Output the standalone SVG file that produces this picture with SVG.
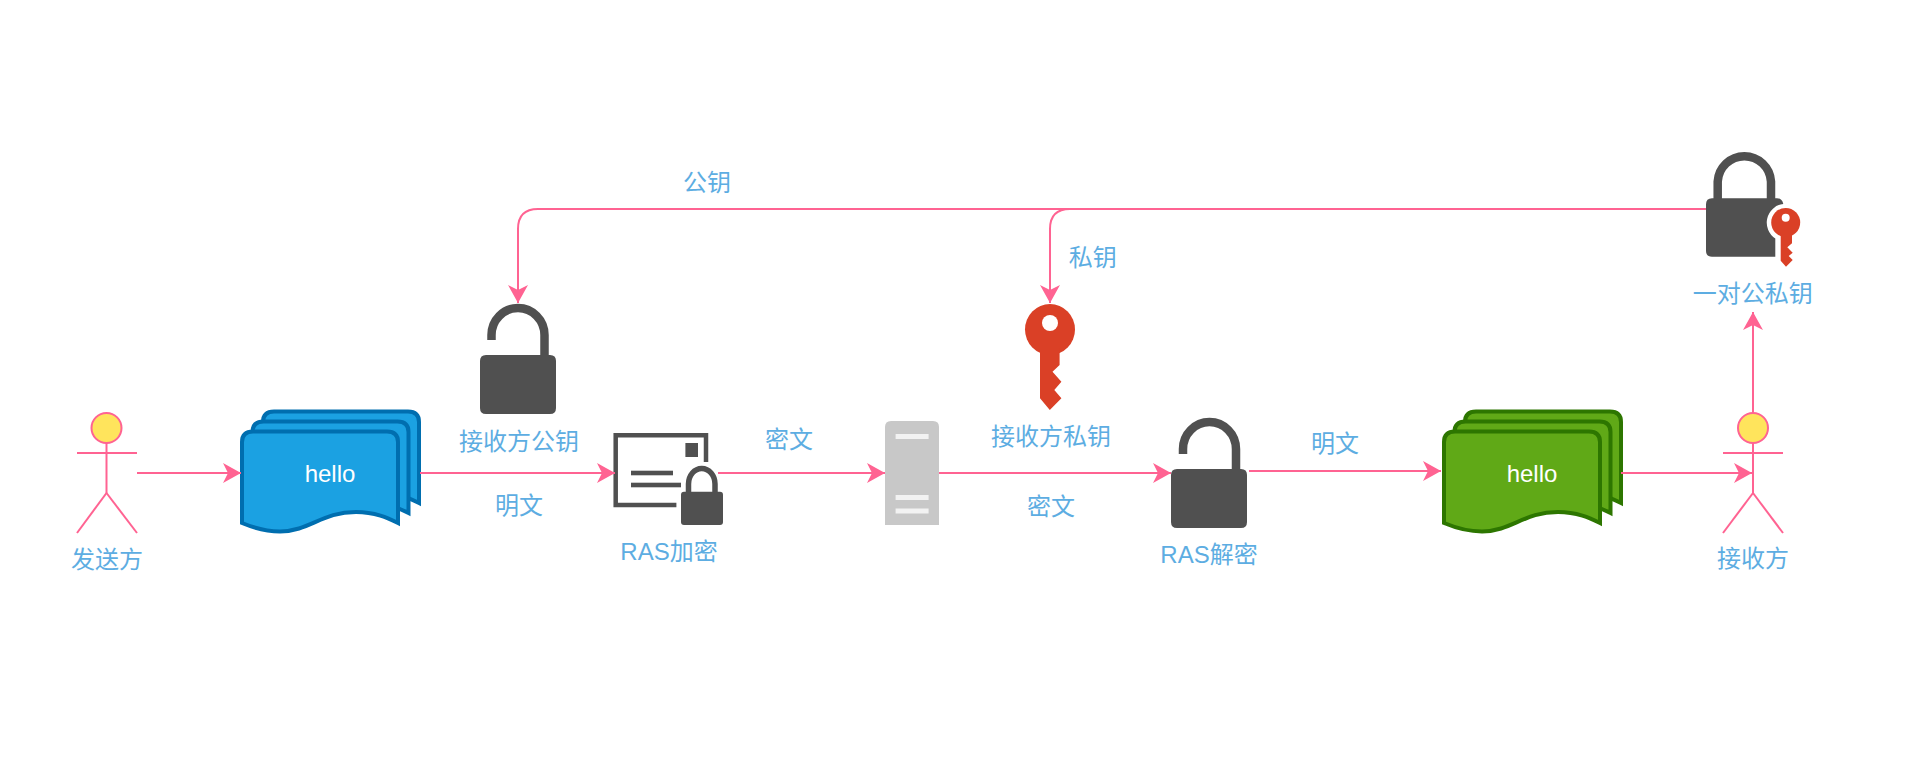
<svg xmlns="http://www.w3.org/2000/svg" width="1920" height="770" viewBox="0 0 1920 770">
<style>
text{font-family:"Liberation Sans","Noto Sans CJK SC",sans-serif;font-size:24px;fill:#5DADE2;text-anchor:middle}
.hello{fill:#fff}
.conn{fill:none;stroke:#FF6392;stroke-width:2;marker-end:url(#arrow)}
.actor line{stroke:#FF6392;stroke-width:2}
.head{fill:#FFE45C;stroke:#FF6392;stroke-width:2}
.blue{fill:#1BA1E2;stroke:#006EAF;stroke-width:4}
.green{fill:#60A917;stroke:#2D7600;stroke-width:4}
.dark{fill:#505050}
.shackle{fill:none;stroke:#505050;stroke-width:8.500}
.red{fill:#DA4026}
</style>
<defs>
<marker id="arrow" markerUnits="userSpaceOnUse" markerWidth="19" markerHeight="22" refX="18" refY="11" orient="auto">
<path d="M0 1L18 11L0 21L5 11Z" fill="#FF6392"/>
</marker>
<path id="doc" d="M242 523V442Q242 431.500 253 431.500H387Q398 431.500 398 442V523C388 518 375 512 356 512C322 512 310 531 280 531.500C266 531.500 254 528 242 523Z"/>
<path id="openlock" d="M0 6Q0 0 6 0H70Q76 0 76 6V53Q76 59 70 59H6Q0 59 0 53Z"/>
<path id="keyshape" d="M1040 348V398.300L1049.800 410L1061.400 398.300L1054.300 390L1061.400 381.700L1052.500 371.700L1059.600 365V348Z"/>
</defs>

<g id="sender" class="actor">
<ellipse class="head" cx="106.500" cy="428" rx="15" ry="15"/>
<line x1="77" y1="453" x2="137" y2="453"/>
<line x1="106.500" y1="443" x2="106.500" y2="493"/>
<line x1="106.500" y1="493" x2="77" y2="533"/>
<line x1="106.500" y1="493" x2="137" y2="533"/>
<text x="107" y="568">发送方</text>
</g>

<g id="doc-plain">
<g class="blue"><use href="#doc" x="21" y="-20"/><use href="#doc" x="10.500" y="-10"/><use href="#doc"/></g>
<text class="hello" x="330" y="482">hello</text>
</g>

<g id="public-key">
<use href="#openlock" class="dark" x="480" y="355"/>
<path class="shackle" d="M491.500 340V335A26.500 27 0 0 1 544.500 335V356"/>
<text x="519" y="450">接收方公钥</text>
</g>

<g id="encrypt">
<path fill="none" stroke="#505050" stroke-width="4.500" d="M676.400 505H615.700V435.200H706V462"/>
<rect class="dark" x="685.400" y="443" width="12.600" height="14"/>
<rect class="dark" x="631" y="470.700" width="42" height="4.600"/>
<rect class="dark" x="631" y="482.700" width="50" height="4.600"/>
<path fill="none" stroke="#fff" stroke-width="11" d="M689 493V484A13 14.500 0 0 1 714.500 484V493"/>
<path fill="none" stroke="#505050" stroke-width="5.500" d="M688.500 493V484A13.200 15.500 0 0 1 715 484V493"/>
<rect class="dark" x="681" y="491.700" width="42" height="33.300" rx="3"/>
<text x="669" y="560">RAS加密</text>
</g>

<g id="server">
<path fill="#C8C8C8" d="M885 427Q885 421 891 421H933Q939 421 939 427V525H885Z"/>
<rect fill="#F2F2F2" x="895.600" y="434" width="33" height="5"/>
<rect fill="#F2F2F2" x="895.600" y="495" width="33" height="5"/>
<rect fill="#F2F2F2" x="895.600" y="508.500" width="33" height="5"/>
</g>

<g id="private-key">
<ellipse class="red" cx="1050" cy="329.500" rx="25" ry="25.500"/>
<use href="#keyshape" class="red"/>
<circle cx="1050" cy="323" r="8" fill="#fff"/>
<text x="1051" y="445">接收方私钥</text>
</g>

<g id="decrypt">
<use href="#openlock" class="dark" x="1171" y="469"/>
<path class="shackle" d="M1183 454V449A26.500 27 0 0 1 1236 449V470"/>
<text x="1209" y="563">RAS解密</text>
</g>

<g id="doc-decrypted">
<g class="green"><use href="#doc" x="1223" y="-20"/><use href="#doc" x="1212.500" y="-10"/><use href="#doc" x="1202"/></g>
<text class="hello" x="1532" y="482">hello</text>
</g>

<g id="receiver" class="actor">
<ellipse class="head" cx="1753" cy="428" rx="15" ry="15"/>
<line x1="1723" y1="453" x2="1783" y2="453"/>
<line x1="1753" y1="443" x2="1753" y2="493"/>
<line x1="1753" y1="493" x2="1723" y2="533"/>
<line x1="1753" y1="493" x2="1783" y2="533"/>
<text x="1753" y="567">接收方</text>
</g>

<g id="key-pair">
<path class="shackle" d="M1717.700 199V181.500A26.700 27 0 0 1 1771 181.500V199"/>
<path class="dark" d="M1712 198.300H1777Q1782 198.300 1783.300 203.900A19 19 0 0 0 1775.300 238.600V256.700H1712Q1706 256.700 1706 250.700V204.300Q1706 198.300 1712 198.300Z"/>
<circle class="red" cx="1785.700" cy="222.500" r="14.500"/>
<path class="red" d="M1780.700 232V260.700L1786 266.700L1792.700 260L1788.700 256L1792.700 252.700L1787.300 247.300L1792 243.300V232Z"/>
<circle cx="1785.700" cy="217.700" r="4" fill="#fff"/>
<text x="1752.700" y="302">一对公私钥</text>
</g>

<g id="connectors">
<path class="conn" d="M137 473H241"/>
<path class="conn" d="M420 473H615"/>
<path class="conn" d="M718 473H885"/>
<path class="conn" d="M939 473H1171"/>
<path class="conn" d="M1249 471H1441"/>
<path class="conn" d="M1621 473H1752"/>
<path class="conn" d="M1753 413V312"/>
<path class="conn" d="M1706 209H538Q518 209 518 229V303"/>
<path class="conn" d="M1070 209Q1050 209 1050 229V303"/>
<text x="707" y="191">公钥</text>
<text x="1092.700" y="266">私钥</text>
<text x="519" y="514">明文</text>
<text x="789" y="448">密文</text>
<text x="1051" y="515">密文</text>
<text x="1335" y="452">明文</text>
</g>
</svg>
